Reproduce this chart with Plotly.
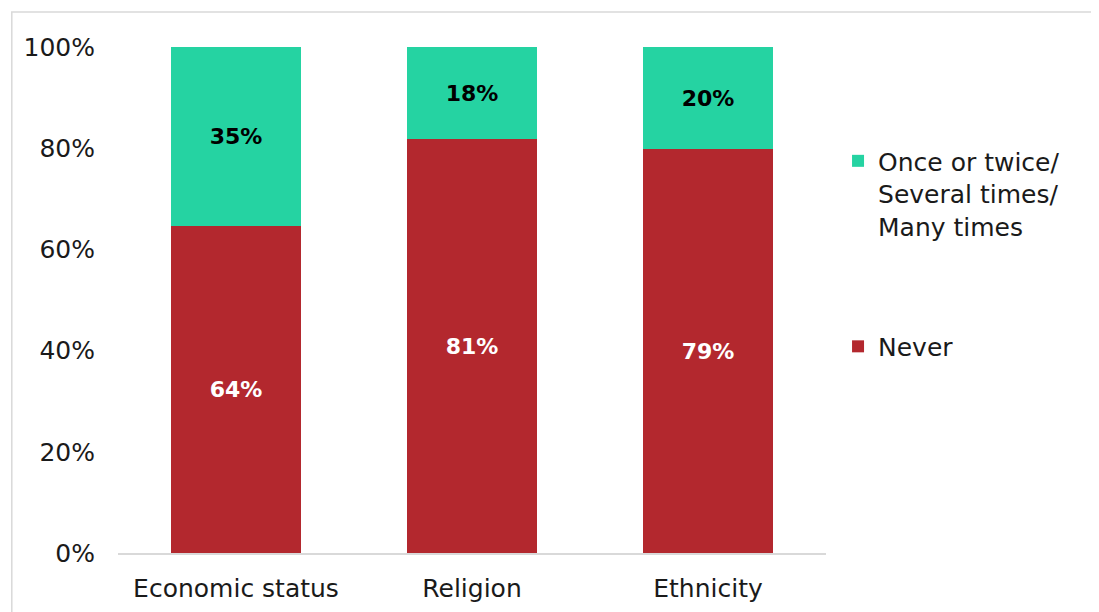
import plotly.graph_objects as go

categories = ["Economic status", "Religion", "Ethnicity"]
never = [64, 81, 79]
once_several = [35, 18, 20]
series_names = ["Never", "Once or twice/<br>Several times/<br>Many times"]
tick_vals = [0, 20, 40, 60, 80, 100]
tick_text = ["0%", "20%", "40%", "60%", "80%", "100%"]

FONT = "DejaVu Sans, sans-serif"
RED = "#B3282E"
GREEN = "#25D3A2"
TXT = "#1a1a1a"

fig = go.Figure()
fig.add_trace(go.Bar(
    x=categories, y=never, name=series_names[0],
    marker=dict(color=RED, line=dict(width=0)),
    text=[f"{v}%" for v in never], textposition="inside",
    insidetextanchor="middle",
    textfont=dict(family=FONT, size=22, color="white", weight="bold"),
    legendgroup="never", legendrank=2,
))
fig.add_trace(go.Bar(
    x=categories, y=once_several, name=series_names[1],
    marker=dict(color=GREEN, line=dict(width=0)),
    text=[f"{v}%" for v in once_several], textposition="inside",
    insidetextanchor="middle",
    textfont=dict(family=FONT, size=22, color="black", weight="bold"),
    legendgroup="once", legendrank=1,
))

fig.update_layout(
    width=1099, height=612,
    barmode="stack", barnorm="percent", bargap=0.45,
    plot_bgcolor="white", paper_bgcolor="white",
    margin=dict(l=110, r=281, t=39, b=67, autoexpand=False),
    font=dict(family=FONT, size=25, color=TXT),
    showlegend=True,
    legend=dict(
        x=1.017, y=0.82, xanchor="left", yanchor="top",
        traceorder="grouped", tracegroupgap=85,
        valign="top",
        font=dict(family=FONT, size=25, color=TXT),
        itemwidth=30,
    ),
    uniformtext=dict(mode="show", minsize=10),
    shapes=[dict(
        type="rect", xref="paper", yref="paper",
        x0=-0.150, x1=1.383, y0=-0.2, y1=1.069,
        line=dict(color="#D9D9D9", width=1.5), fillcolor="rgba(0,0,0,0)",
    )],
)
fig.update_xaxes(
    showline=True, linecolor="#D9D9D9", linewidth=1.5,
    ticks="", showgrid=False, ticklabelstandoff=12,
    tickfont=dict(family=FONT, size=25, color=TXT),
)
fig.update_yaxes(
    range=[0, 100], tickvals=tick_vals, ticktext=tick_text,
    showgrid=False, showline=False, zeroline=False, ticks="",
    ticklabelstandoff=22,
    tickfont=dict(family=FONT, size=25, color=TXT),
)

fig.write_html("out.html")
